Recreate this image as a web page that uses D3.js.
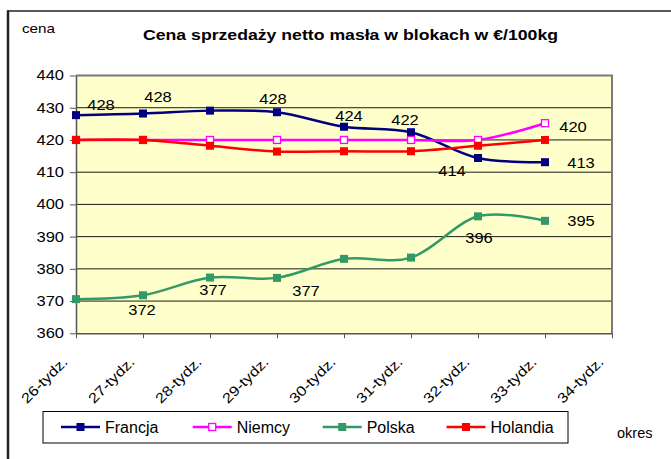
<!DOCTYPE html>
<html><head><meta charset="utf-8">
<script src="https://cdn.jsdelivr.net/npm/d3@7"></script>
<style>
body{margin:0;background:#fff}
svg{display:block}
text{font-family:Arial,"Liberation Sans",sans-serif;fill:#000}
</style>
</head><body><div id="chart"></div>
<script>
// ---- data ----
const categories = ["26-tydz.","27-tydz.","28-tydz.","29-tydz.","30-tydz.","31-tydz.","32-tydz.","33-tydz.","34-tydz."];
const seriesNames = ["Francja","Niemcy","Polska","Holandia"];
const francja  = [427.7, 428.2, 429.1, 428.6, 424.1, 422.4, 414.4, 413.1];
const niemcy   = [420.0, 420.0, 420.0, 420.0, 420.0, 420.0, 420.0, 425.2];
const polska   = [370.6, 371.8, 377.3, 377.2, 383.1, 383.5, 396.3, 394.9];
const holandia = [420.0, 420.0, 418.2, 416.4, 416.5, 416.5, 418.2, 420.0];
const yTicks = [360, 370, 380, 390, 400, 410, 420, 430, 440];
const titleText = "Cena sprzedaży netto masła w blokach w €/100kg";
const yAxisTitle = "cena";
const xAxisTitle = "okres";
// data labels: series, point index, shown text
const labelSeries = ["Francja","Francja","Francja","Francja","Francja","Francja","Francja","Holandia","Polska","Polska","Polska","Polska","Polska"];
const labelIndex  = [0,1,3,4,5,6,7,7,1,2,3,6,7];
const labelText   = ["428","428","428","424","422","414","413","420","372","377","377","396","395"];

// ---- layout ----
const labelOffsets = [[25,-10],[15,-16],[-4,-13],[5,-11],[-6,-12],[-26,13],[36,1],[28,-13],[-1,15],[3,13],[29,13],[1,22],[36,0]];
const W = 671, H = 459, SX = 1.18;
const colors = {Francja:"#000080", Niemcy:"#FF00FF", Polska:"#339966", Holandia:"#FF0000"};
const values = {Francja:francja, Niemcy:niemcy, Polska:polska, Holandia:holandia};

const svg = d3.select("#chart").append("svg").attr("width", W).attr("height", H);
svg.append("rect").attr("width", W).attr("height", H).attr("fill", "#fff");
// outer frame (left and top visible)
svg.append("line").attr("x1", 8).attr("x2", 8).attr("y1", 10.5).attr("y2", H).attr("stroke", "#222").attr("stroke-width", 2.5);
svg.append("line").attr("x1", 7).attr("x2", W).attr("y1", 11).attr("y2", 11).attr("stroke", "#222").attr("stroke-width", 1.3);

const x = d3.scalePoint().domain(categories).range([76, 612]);
const y = d3.scaleLinear().domain([360, 440]).range([333.3, 75.5]);

// plot area
svg.append("rect").attr("x", 76).attr("y", y(440)).attr("width", 612 - 76).attr("height", y(360) - y(440))
  .attr("fill", "#FFFFCC");
svg.append("g").selectAll("line").data(yTicks.filter(t => t > 360 && t < 440)).join("line")
  .attr("x1", 76).attr("x2", 612).attr("y1", d => y(d)).attr("y2", d => y(d))
  .attr("stroke", "#1a1a1a").attr("stroke-width", 1);
svg.append("path").attr("d", `M76,${y(440)}H612V${y(360)}`).attr("fill", "none")
  .attr("stroke", "#7a7a7a").attr("stroke-width", 2);

// y axis
const gy = svg.append("g").attr("transform", "translate(76,0)")
  .call(d3.axisLeft(y).tickValues(yTicks).tickSize(6).tickSizeOuter(0));
gy.select(".domain").attr("stroke", "#555").attr("stroke-width", 1.5);
gy.selectAll(".tick line").attr("stroke", "#555");
gy.selectAll(".tick text").attr("font-size", 14).attr("font-family", "Arial, 'Liberation Sans', sans-serif")
  .attr("x", -12 / SX).attr("transform", `scale(${SX},1)`);

// x axis
const gx = svg.append("g").attr("transform", `translate(0,${y(360)})`)
  .call(d3.axisBottom(x).tickSize(5).tickSizeOuter(0));
gx.select(".domain").attr("stroke", "#555").attr("stroke-width", 1.5);
gx.selectAll(".tick line").attr("stroke", "#555");
gx.selectAll(".tick text").attr("font-size", 14).attr("font-family", "Arial, 'Liberation Sans', sans-serif")
  .attr("text-anchor", "end").attr("x", 0).attr("y", 0).attr("dy", 0)
  .attr("transform", `translate(-8,29.5) rotate(-45) scale(${SX},1)`);

// series
const line = d3.line().x((d, i) => x(categories[i])).y(d => y(d)).curve(d3.curveCardinal.tension(0));
seriesNames.forEach(name => {
  const g = svg.append("g");
  g.append("path").attr("d", line(values[name])).attr("fill", "none")
    .attr("stroke", colors[name]).attr("stroke-width", 2.5);
  const hollow = name === "Niemcy";
  const s = hollow ? 7 : 8;
  g.selectAll("rect").data(values[name]).join("rect")
    .attr("x", (d, i) => x(categories[i]) - s / 2).attr("y", d => y(d) - s / 2)
    .attr("width", s).attr("height", s)
    .attr("fill", hollow ? "#fff" : colors[name])
    .attr("stroke", colors[name]).attr("stroke-width", hollow ? 1.3 : 0);
});

// data labels
svg.append("g").selectAll("text").data(labelText).join("text")
  .attr("transform", (d, k) => {
    const i = labelIndex[k];
    const cx = x(categories[i]) + labelOffsets[k][0];
    const cy = y(values[labelSeries[k]][i]) + labelOffsets[k][1];
    return `translate(${cx},${cy}) scale(${SX},1)`;
  })
  .attr("text-anchor", "middle").attr("dy", "0.35em").attr("font-size", 14).text(d => d);

// titles
svg.append("text").attr("x", 143).attr("y", 40).attr("font-size", 15).attr("font-weight", "bold")
  .attr("textLength", 415).attr("lengthAdjust", "spacingAndGlyphs").text(titleText);
svg.append("text").attr("x", 22).attr("y", 33.3).attr("font-size", 13)
  .attr("textLength", 33).attr("lengthAdjust", "spacingAndGlyphs").text(yAxisTitle);
svg.append("text").attr("x", 617).attr("y", 438).attr("font-size", 15)
  .attr("textLength", 35.5).attr("lengthAdjust", "spacingAndGlyphs").text(xAxisTitle);

// legend
const lg = svg.append("g");
lg.append("rect").attr("x", 43).attr("y", 411.5).attr("width", 525).attr("height", 31.5)
  .attr("fill", "#fff").attr("stroke", "#000").attr("stroke-width", 1);
const legendX = [61, 192.7, 322.7, 446.5];
const ly = 427;
seriesNames.forEach((name, k) => {
  const lx = legendX[k];
  lg.append("line").attr("x1", lx).attr("x2", lx + 39).attr("y1", ly).attr("y2", ly)
    .attr("stroke", colors[name]).attr("stroke-width", 2.5);
  const hollow = name === "Niemcy";
  const s = hollow ? 7 : 8;
  lg.append("rect").attr("x", lx + 19.5 - s / 2).attr("y", ly - s / 2).attr("width", s).attr("height", s)
    .attr("fill", hollow ? "#fff" : colors[name]).attr("stroke", colors[name]).attr("stroke-width", hollow ? 1.3 : 0);
  lg.append("text").attr("x", lx + 44).attr("y", ly).attr("dy", "0.35em").attr("font-size", 16).text(name);
});
</script>
</body></html>
